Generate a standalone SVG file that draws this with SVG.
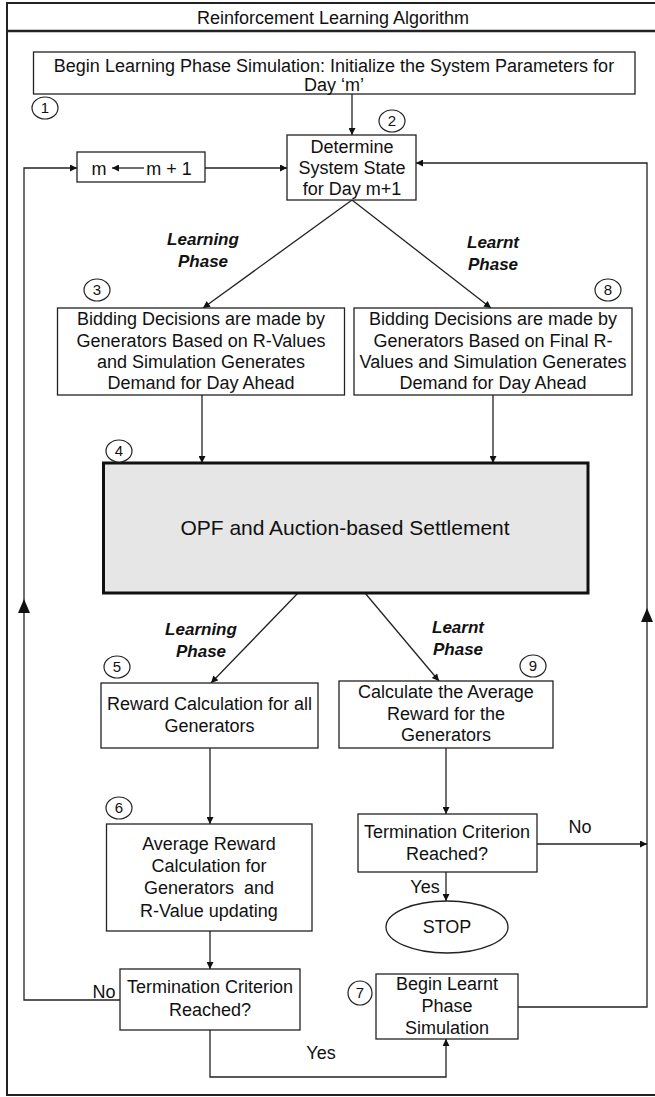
<svg xmlns="http://www.w3.org/2000/svg" width="655" height="1097" viewBox="0 0 655 1097">
<style>
text{font-family:"Liberation Sans",Arial,sans-serif;fill:#111;}
.t{font-size:18px;text-anchor:middle;}
.lbl{font-size:17px;font-weight:bold;font-style:italic;text-anchor:middle;}
.num{font-size:15px;text-anchor:middle;}
.box{fill:#fff;stroke:#222;stroke-width:1.3;}
.circ{fill:#fff;stroke:#222;stroke-width:1.2;}
.c{fill:none;stroke:#222;stroke-width:1.3;}
</style>
<defs>
<marker id="ah" viewBox="0 0 10 10" refX="10" refY="5" markerWidth="8" markerHeight="7" markerUnits="userSpaceOnUse" orient="auto"><path d="M0,0L10,5L0,10z" fill="#111"/></marker>
</defs>
<rect x="7" y="3" width="680" height="1092" fill="#fff" stroke="#222" stroke-width="2"/>
<line x1="7" y1="31" x2="655" y2="31" stroke="#222" stroke-width="2.5"/>
<text class="t" x="333" y="24">Reinforcement Learning Algorithm</text>

<g id="connectors">
<line class="c" x1="352" y1="94" x2="352" y2="135" marker-end="url(#ah)"/>
<line class="c" x1="205" y1="168" x2="287" y2="168" marker-end="url(#ah)"/>
<path class="c" d="M120,1000H24V168H77" marker-end="url(#ah)"/>
<path d="M24,599L18,613H30z" fill="#111"/>
<path class="c" d="M518,1007H647V163H416" marker-end="url(#ah)"/>
<path d="M647,608L641,622H653z" fill="#111"/>
<line class="c" x1="352" y1="200" x2="203" y2="308" marker-end="url(#ah)"/>
<line class="c" x1="352" y1="200" x2="491" y2="308" marker-end="url(#ah)"/>
<line class="c" x1="202" y1="395" x2="202" y2="463" marker-end="url(#ah)"/>
<line class="c" x1="493" y1="395" x2="493" y2="463" marker-end="url(#ah)"/>
<line class="c" x1="298" y1="593" x2="211" y2="683" marker-end="url(#ah)"/>
<line class="c" x1="365" y1="593" x2="439" y2="681" marker-end="url(#ah)"/>
<line class="c" x1="210" y1="748" x2="210" y2="824" marker-end="url(#ah)"/>
<line class="c" x1="446" y1="748" x2="446" y2="814" marker-end="url(#ah)"/>
<line class="c" x1="446" y1="872" x2="446" y2="901" marker-end="url(#ah)"/>
<line class="c" x1="537" y1="844" x2="647" y2="844" marker-end="url(#ah)"/>
<line class="c" x1="210" y1="931" x2="210" y2="969" marker-end="url(#ah)"/>
<path class="c" d="M210,1030V1077H446V1039" marker-end="url(#ah)"/>
<text class="lbl" x="203" y="245">Learning</text>
<text class="lbl" x="203" y="267">Phase</text>
<text class="lbl" x="493" y="248">Learnt</text>
<text class="lbl" x="493" y="270">Phase</text>
<text class="lbl" x="201" y="635">Learning</text>
<text class="lbl" x="201" y="657">Phase</text>
<text class="lbl" x="458" y="633">Learnt</text>
<text class="lbl" x="458" y="655">Phase</text>
<text class="t" x="580" y="833">No</text>
<text class="t" x="425" y="893">Yes</text>
<text class="t" x="104" y="998">No</text>
<text class="t" x="321" y="1059">Yes</text>
</g>

<g id="n1">
<rect class="box" x="33.5" y="52" width="601.5" height="42"/>
<text class="t" x="334" y="72">Begin Learning Phase Simulation: Initialize the System Parameters for</text>
<text class="t" x="334" y="91">Day ‘m’</text>
<ellipse class="circ" cx="45" cy="108" rx="13" ry="11"/><text class="num" x="45" y="113">1</text>
</g>

<g id="n2">
<rect class="box" x="287" y="135" width="129" height="65"/>
<text class="t" x="352" y="153">Determine</text>
<text class="t" x="352" y="174">System State</text>
<text class="t" x="352" y="195">for Day m+1</text>
<ellipse class="circ" cx="392" cy="121" rx="13" ry="11"/><text class="num" x="392" y="126">2</text>
</g>

<g id="nm">
<rect class="box" x="77" y="152" width="128" height="30"/>
<text class="t" x="99" y="175">m</text>
<line class="c" x1="144" y1="168" x2="112" y2="168" marker-end="url(#ah)"/>
<text class="t" x="169" y="175">m + 1</text>
</g>

<g id="n3">
<rect class="box" x="57.5" y="308" width="287" height="87"/>
<text class="t" x="201" y="325">Bidding Decisions are made by</text>
<text class="t" x="201" y="347">Generators Based on R-Values</text>
<text class="t" x="201" y="368">and Simulation Generates</text>
<text class="t" x="201" y="389">Demand for Day Ahead</text>
<ellipse class="circ" cx="97" cy="290" rx="13" ry="11"/><text class="num" x="97" y="295">3</text>
</g>

<g id="n8">
<rect class="box" x="354" y="308" width="278" height="87"/>
<text class="t" x="493" y="325">Bidding Decisions are made by</text>
<text class="t" x="493" y="347">Generators Based on Final R-</text>
<text class="t" x="493" y="368">Values and Simulation Generates</text>
<text class="t" x="493" y="389">Demand for Day Ahead</text>
<ellipse class="circ" cx="608" cy="290" rx="13" ry="11"/><text class="num" x="608" y="295">8</text>
</g>

<g id="n4">
<rect x="103.5" y="463" width="484.5" height="130" fill="#e6e6e6" stroke="#111" stroke-width="3"/>
<text x="345" y="535" style="font-size:21px;text-anchor:middle">OPF and Auction-based Settlement</text>
<ellipse class="circ" cx="119" cy="451" rx="13" ry="11"/><text class="num" x="119" y="456">4</text>
</g>

<g id="n5">
<rect class="box" x="101" y="683" width="217" height="65"/>
<text class="t" x="209.5" y="710">Reward Calculation for all</text>
<text class="t" x="209.5" y="732">Generators</text>
<ellipse class="circ" cx="117" cy="667" rx="13" ry="11"/><text class="num" x="117" y="672">5</text>
</g>

<g id="n9">
<rect class="box" x="339" y="681" width="214" height="67"/>
<text class="t" x="446" y="698">Calculate the Average</text>
<text class="t" x="446" y="720">Reward for the</text>
<text class="t" x="446" y="741">Generators</text>
<ellipse class="circ" cx="533" cy="666" rx="13" ry="11"/><text class="num" x="533" y="671">9</text>
</g>

<g id="n6">
<rect class="box" x="106.5" y="824" width="205.5" height="107"/>
<text class="t" x="209" y="850">Average Reward</text>
<text class="t" x="209" y="872">Calculation for</text>
<text class="t" x="209" y="894" xml:space="preserve">Generators  and</text>
<text class="t" x="209" y="917">R-Value updating</text>
<ellipse class="circ" cx="119" cy="808" rx="13" ry="11"/><text class="num" x="119" y="813">6</text>
</g>

<g id="n10">
<rect class="box" x="358" y="814" width="179" height="58"/>
<text class="t" x="447" y="838">Termination Criterion</text>
<text class="t" x="447" y="860">Reached?</text>
</g>

<g id="stop">
<ellipse class="box" cx="447" cy="927" rx="61" ry="26"/>
<text class="t" x="447" y="933">STOP</text>
</g>

<g id="n11">
<rect class="box" x="120" y="969" width="180" height="61"/>
<text class="t" x="210" y="993">Termination Criterion</text>
<text class="t" x="210" y="1016">Reached?</text>
</g>

<g id="n7">
<rect class="box" x="376" y="974" width="142" height="65"/>
<text class="t" x="447" y="990">Begin Learnt</text>
<text class="t" x="447" y="1012">Phase</text>
<text class="t" x="447" y="1034">Simulation</text>
<ellipse class="circ" cx="360" cy="993" rx="12" ry="12"/><text class="num" x="360" y="998">7</text>
</g>
</svg>
